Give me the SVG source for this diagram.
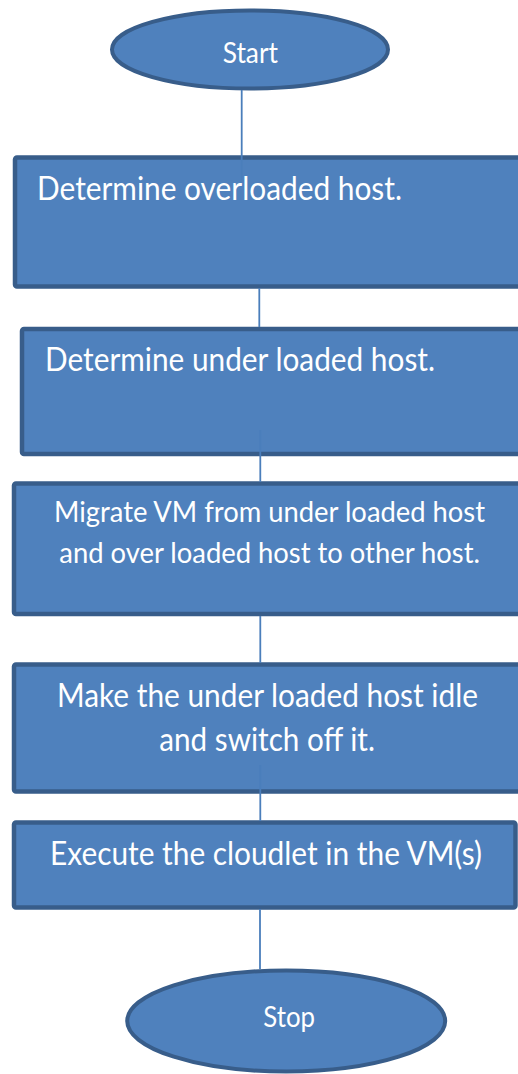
<svg xmlns="http://www.w3.org/2000/svg" width="518" height="1074" viewBox="0 0 518 1074">
  <style>
    .shape { fill: #4F81BD; stroke: #385D8A; stroke-width: 4.5; }
    .term { fill: #4F81BD; stroke: #385D8A; stroke-width: 4; }
    .label { fill: #FFFFFF; font-family: Lato, "Open Sans", "Liberation Sans", sans-serif; }
    .link { stroke: #4A7EBB; stroke-width: 1.8; fill: none; }
  </style>
  <rect width="518" height="1074" fill="#FFFFFF"/>

  <!-- start terminal -->
  <g id="start">
    <ellipse class="term" cx="250" cy="49.5" rx="138" ry="39"/>
    <text class="label" x="222.7" y="63.3" font-size="28" textLength="55.3" lengthAdjust="spacingAndGlyphs">Start</text>
  </g>

  <!-- process steps -->
  <g id="step-overloaded">
    <rect class="shape" x="15" y="157.5" width="520" height="129" rx="2"/>
    <text class="label" x="37" y="200" font-size="32" textLength="365" lengthAdjust="spacingAndGlyphs">Determine overloaded host.</text>
  </g>

  <g id="step-underloaded">
    <rect class="shape" x="22" y="329" width="520" height="125" rx="2"/>
    <text class="label" x="45" y="371" font-size="32" textLength="390" lengthAdjust="spacingAndGlyphs">Determine under loaded host.</text>
  </g>

  <g id="step-migrate">
    <rect class="shape" x="14" y="483.5" width="520" height="130.5" rx="2"/>
    <text class="label" x="54" y="521.7" font-size="29" textLength="431" lengthAdjust="spacingAndGlyphs">Migrate VM from under loaded host</text>
    <text class="label" x="59.3" y="563.3" font-size="29" textLength="420.7" lengthAdjust="spacingAndGlyphs">and over loaded host to other host.</text>
  </g>

  <g id="step-idle">
    <rect class="shape" x="14" y="664.5" width="520" height="127" rx="2"/>
    <text class="label" x="57" y="706.7" font-size="32" textLength="421" lengthAdjust="spacingAndGlyphs">Make the under loaded host idle</text>
    <text class="label" x="159.3" y="751" font-size="32" textLength="215.7" lengthAdjust="spacingAndGlyphs">and switch off it.</text>
  </g>

  <g id="step-execute">
    <rect class="shape" x="14" y="822.5" width="501.5" height="85" rx="2"/>
    <text class="label" x="50" y="865" font-size="32" textLength="432" lengthAdjust="spacingAndGlyphs">Execute the cloudlet in the VM(s)</text>
  </g>

  <!-- stop terminal -->
  <g id="stop">
    <ellipse class="term" cx="286.2" cy="1021" rx="159" ry="50.5"/>
    <text class="label" x="263.3" y="1026.7" font-size="28" textLength="51.7" lengthAdjust="spacingAndGlyphs">Stop</text>
  </g>

  <!-- connectors, drawn over the shapes -->
  <g id="connectors">
    <line class="link" x1="241.7" y1="90" x2="241.7" y2="180"/>
    <line class="link" x1="259.3" y1="288" x2="259.3" y2="327"/>
    <line class="link" x1="260.3" y1="430" x2="260.3" y2="482"/>
    <line class="link" x1="260.3" y1="616" x2="260.3" y2="663"/>
    <line class="link" x1="260.3" y1="765" x2="260.3" y2="821"/>
    <line class="link" x1="260" y1="909" x2="260" y2="969"/>
  </g>
</svg>
